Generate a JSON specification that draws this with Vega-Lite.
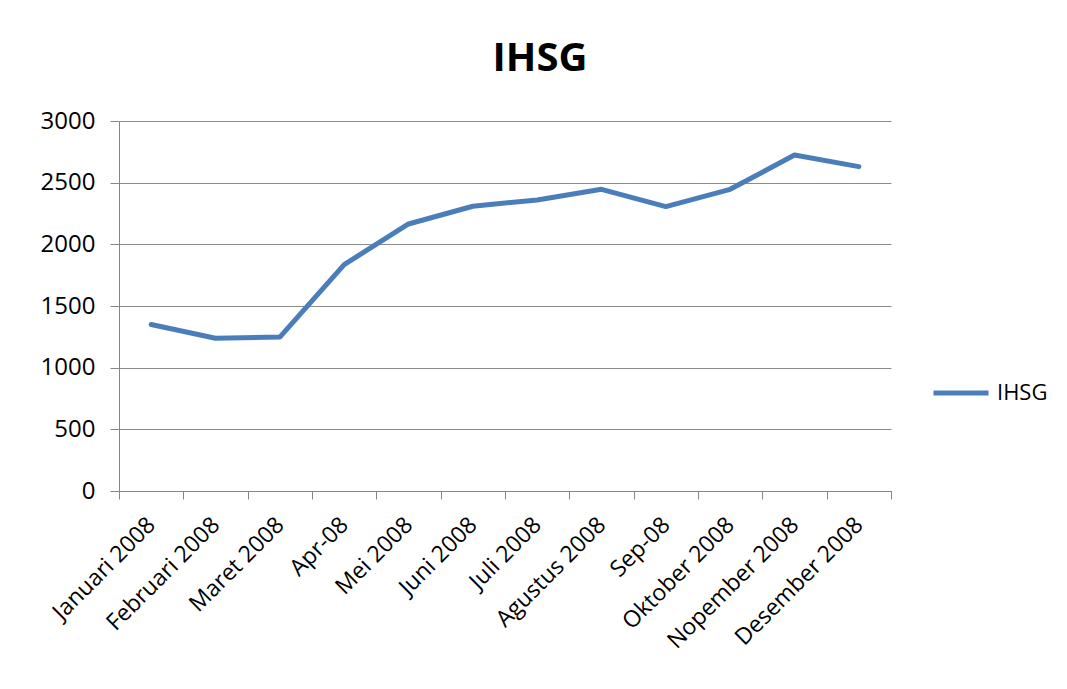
{
  "$schema": "https://vega.github.io/schema/vega-lite/v6.json",
  "width": 772,
  "height": 370,
  "autosize": {"type": "none"},
  "padding": {"left": 119, "top": 121, "right": 176, "bottom": 198},
  "background": "white",
  "title": {
    "text": "IHSG",
    "font": "Open Sans",
    "fontSize": 40,
    "fontWeight": "bold",
    "color": "#000000",
    "anchor": "middle",
    "dx": 35,
    "offset": 30
  },
  "data": {
    "values": [
      {"bulan": "Januari 2008", "urut": 1, "nilai": 1350, "seri": "IHSG"},
      {"bulan": "Februari 2008", "urut": 2, "nilai": 1239, "seri": "IHSG"},
      {"bulan": "Maret 2008", "urut": 3, "nilai": 1248, "seri": "IHSG"},
      {"bulan": "Apr-08", "urut": 4, "nilai": 1836, "seri": "IHSG"},
      {"bulan": "Mei 2008", "urut": 5, "nilai": 2165, "seri": "IHSG"},
      {"bulan": "Juni 2008", "urut": 6, "nilai": 2309, "seri": "IHSG"},
      {"bulan": "Juli 2008", "urut": 7, "nilai": 2360, "seri": "IHSG"},
      {"bulan": "Agustus 2008", "urut": 8, "nilai": 2446, "seri": "IHSG"},
      {"bulan": "Sep-08", "urut": 9, "nilai": 2306, "seri": "IHSG"},
      {"bulan": "Oktober 2008", "urut": 10, "nilai": 2446, "seri": "IHSG"},
      {"bulan": "Nopember 2008", "urut": 11, "nilai": 2724, "seri": "IHSG"},
      {"bulan": "Desember 2008", "urut": 12, "nilai": 2630, "seri": "IHSG"}
    ]
  },
  "mark": {"type": "line", "strokeWidth": 5, "strokeCap": "round", "strokeJoin": "round"},
  "encoding": {
    "x": {
      "field": "bulan",
      "type": "ordinal",
      "sort": {"field": "urut", "order": "ascending"},
      "scale": {"type": "band", "paddingInner": 0, "paddingOuter": 0},
      "axis": {
        "title": null,
        "labelAngle": -45,
        "labelAlign": "right",
        "labelBaseline": "middle",
        "labelFont": "Open Sans",
        "labelFontSize": 23,
        "labelColor": "#000000",
        "labelPadding": 22,
        "labelOverlap": false,
        "labelLimit": 0,
        "tickBand": "extent",
        "tickSize": 8,
        "tickColor": "#868686",
        "domainColor": "#868686",
        "grid": false
      }
    },
    "y": {
      "field": "nilai",
      "type": "quantitative",
      "scale": {"domain": [0, 3000], "nice": false},
      "axis": {
        "title": null,
        "values": [0, 500, 1000, 1500, 2000, 2500, 3000],
        "format": "d",
        "labelFont": "Open Sans",
        "labelFontSize": 24,
        "labelColor": "#000000",
        "labelPadding": 15,
        "tickSize": 9,
        "tickColor": "#868686",
        "domainColor": "#868686",
        "grid": true,
        "gridColor": "#8C8C8C",
        "gridWidth": 1
      }
    },
    "color": {
      "field": "seri",
      "type": "nominal",
      "scale": {"range": ["#4A7EBB"]},
      "legend": {
        "title": null,
        "orient": "none",
        "legendX": 812,
        "legendY": 242,
        "symbolType": "stroke",
        "symbolSize": 3025,
        "symbolStrokeWidth": 5,
        "labelFont": "Open Sans",
        "labelFontSize": 22,
        "labelColor": "#000000",
        "labelOffset": 6
      }
    }
  },
  "config": {
    "view": {"stroke": null}
  }
}
